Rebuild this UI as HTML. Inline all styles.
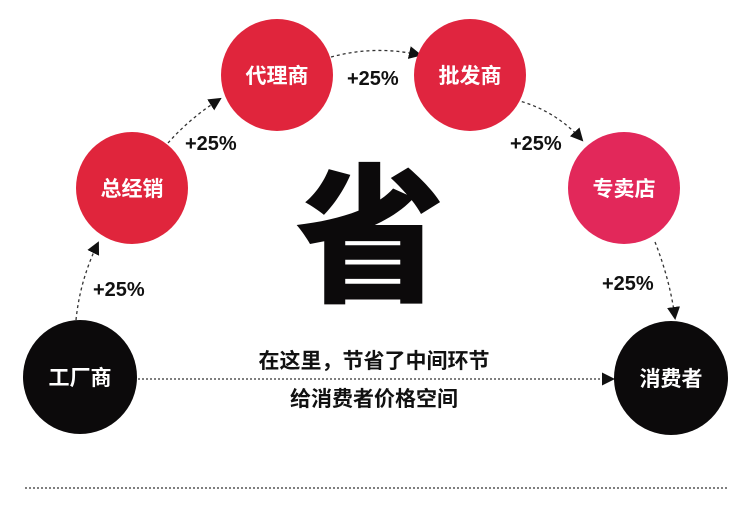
<!DOCTYPE html>
<html><head><meta charset="utf-8"><style>
html,body{margin:0;padding:0;background:#fff;}
svg{display:block;}
text{font-family:"Liberation Sans","Noto Sans CJK SC",sans-serif;font-weight:bold;}
</style></head><body>
<svg width="750" height="508" viewBox="0 0 750 508" xmlns="http://www.w3.org/2000/svg">
<defs>
<marker id="a" markerWidth="13" markerHeight="13" refX="11" refY="6.5" orient="auto" markerUnits="userSpaceOnUse">
<path d="M0,0 L13,6.5 L0,13 z" fill="#111"/></marker>
</defs>
<g fill="none" stroke="#333" stroke-width="1.3" stroke-dasharray="3,3">
<path d="M76,320 Q80,280 98,243" marker-end="url(#a)"/>
<path d="M168,143 Q190,118 220,99" marker-end="url(#a)"/>
<path d="M331,57 Q375,45 420,55" marker-end="url(#a)"/>
<path d="M516,100 Q555,110 582,140" marker-end="url(#a)"/>
<path d="M655,242 Q670,280 675,318" marker-end="url(#a)"/>
<path d="M138,379 L613,379" stroke-dasharray="2,2" marker-end="url(#a)"/>
<path d="M25,488 L728,488" stroke-dasharray="2,2"/>
</g>
<circle cx="80" cy="377" r="57" fill="#0c0a0b"/>
<circle cx="132" cy="188" r="56" fill="#e0253c"/>
<circle cx="277" cy="75" r="56" fill="#e0253c"/>
<circle cx="470" cy="75" r="56" fill="#e0253f"/>
<circle cx="624" cy="188" r="56" fill="#e2285a"/>
<circle cx="671" cy="378" r="57" fill="#0c0a0b"/>
<g fill="#fff" font-size="21" text-anchor="middle">
<text x="80" y="385">工厂商</text>
<text x="132" y="196">总经销</text>
<text x="277" y="83">代理商</text>
<text x="470" y="83">批发商</text>
<text x="624" y="196">专卖店</text>
<text x="671" y="386">消费者</text>
</g>
<g fill="#111" font-size="20">
<text x="93" y="296">+25%</text>
<text x="185" y="150">+25%</text>
<text x="347" y="85">+25%</text>
<text x="510" y="150">+25%</text>
<text x="602" y="290">+25%</text>
</g>
<text x="370" y="290" font-size="150" text-anchor="middle" fill="#0c0a0b" style="font-weight:900">省</text>
<g fill="#111" font-size="21" text-anchor="middle">
<text x="374" y="368">在这里，节省了中间环节</text>
<text x="374" y="406">给消费者价格空间</text>
</g>
</svg>
</body></html>
